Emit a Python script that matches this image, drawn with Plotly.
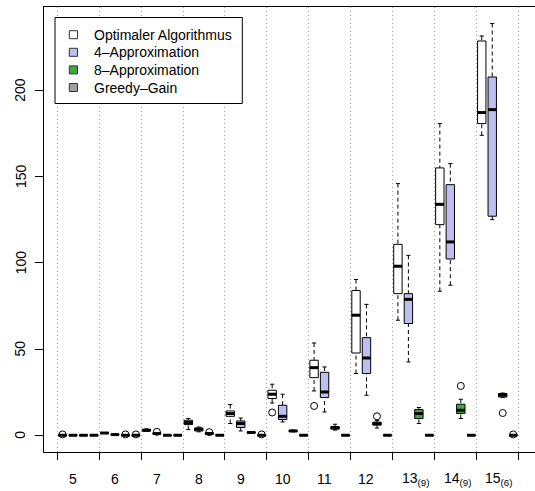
import plotly.graph_objects as go

# ---------------- data ----------------
groups = ["5", "6", "7", "8", "9", "10", "11", "12", "13", "14", "15"]
group_sub = ["", "", "", "", "", "", "", "", "(9)", "(9)", "(6)"]

series_names = ["Optimaler Algorithmus", "4\u2013Approximation", "8\u2013Approximation", "Greedy\u2013Gain"]
series_fill = ["#FFFFFF", "#BEBEF0", "#3DAA3D", "#A0A0A0"]

opt_q1  = [0, 1.3, 2.5, 6.2, 11.0, 21.3, 33.4, 47.7, 82.1, 122.1, 180.7]
opt_med = [0, 1.3, 2.9, 7.4, 12.6, 23.8, 39.2, 69.6, 98.0, 133.9, 187.1]
opt_q3  = [0, 1.3, 3.4, 8.7, 14.1, 26.1, 43.5, 83.9, 110.7, 155.0, 228.6]
opt_lo  = [0, 1.3, 2.2, 3.3, 6.8, 18.7, 25.7, 35.8, 66.7, 83.5, 173.9]
opt_hi  = [0, 1.3, 3.7, 9.7, 17.8, 29.6, 53.5, 90.3, 145.9, 180.7, 231.5]
opt_out_grp = [0, 5, 6]
opt_out_val = [0.5, 13.2, 17.0]

app4_q1  = [0, 0.4, 1.0, 2.5, 4.5, 9.1, 21.9, 35.8, 64.8, 102.2, 127.0]
app4_med = [0, 0.4, 1.0, 3.5, 6.8, 11.0, 25.1, 44.8, 78.8, 112.1, 188.8]
app4_q3  = [0, 0.4, 1.0, 4.2, 8.3, 17.4, 36.5, 56.6, 82.1, 145.3, 207.7]
app4_lo  = [0, 0.4, 1.0, 2.0, 2.5, 7.7, 13.5, 23.2, 42.5, 87.0, 125.0]
app4_hi  = [0, 0.4, 1.0, 4.8, 10.0, 23.8, 39.6, 75.9, 104.3, 157.5, 238.7]
app4_out_grp = [2]
app4_out_val = [2.0]

app8_q1  = [0, 0, 0, 0.8, 1.4, 2.2, 3.6, 5.9, 9.7, 12.6, 22.2]
app8_med = [0, 0, 0, 1.0, 1.6, 2.5, 4.3, 6.7, 12.6, 14.5, 23.5]
app8_q3  = [0, 0, 0, 1.2, 1.8, 2.8, 5.0, 7.6, 14.9, 18.0, 24.2]
app8_lo  = [0, 0, 0, 0.8, 1.2, 2.0, 3.0, 4.2, 6.8, 9.7, 22.0]
app8_hi  = [0, 0, 0, 1.2, 2.0, 3.0, 6.4, 8.5, 16.1, 20.9, 24.5]
app8_out_grp = [1, 3, 7, 9, 10]
app8_out_val = [0.5, 1.8, 11.0, 28.6, 12.9]

greedy_q1  = [0, 0, 0, 0, 0, 0, 0, 0, 0, 0, 0]
greedy_med = [0, 0, 0, 0, 0, 0, 0, 0, 0, 0, 0]
greedy_q3  = [0, 0, 0, 0, 0, 0, 0, 0, 0, 0, 0]
greedy_lo  = [0, 0, 0, 0, 0, 0, 0, 0, 0, 0, 0]
greedy_hi  = [0, 0, 0, 0, 0, 0, 0, 0, 0, 0, 0]
greedy_out_grp = [1, 4, 10]
greedy_out_val = [0.5, 0.5, 0.5]

y_ticks = [0, 50, 100, 150, 200]

# ---------------- assemble ----------------
series = [
    (opt_q1, opt_med, opt_q3, opt_lo, opt_hi, opt_out_grp, opt_out_val),
    (app4_q1, app4_med, app4_q3, app4_lo, app4_hi, app4_out_grp, app4_out_val),
    (app8_q1, app8_med, app8_q3, app8_lo, app8_hi, app8_out_grp, app8_out_val),
    (greedy_q1, greedy_med, greedy_q3, greedy_lo, greedy_hi, greedy_out_grp, greedy_out_val),
]
NS = len(series)
BOXW = 0.8
FONT = "Liberation Sans, Arial, sans-serif"
W, H = 535, 491
ML, MR, MT, MB = 44, 0, 7, 39
PW, PH = W - ML - MR, H - MT - MB


def px_x(p):
    return (p - ML) / PW


def px_y(p):
    return (H - MB - p) / PH


fig = go.Figure()

overlay = []
for s, (q1, med, q3, lo, hi, og, ov) in enumerate(series):
    xs = [NS * k + s + 1 for k in range(len(groups))]
    fig.add_trace(go.Box(
        x=xs, q1=q1, median=med, q3=q3, lowerfence=q1, upperfence=q3,
        width=BOXW, whiskerwidth=0, boxpoints=False,
        fillcolor=series_fill[s], line=dict(color="black", width=1),
        name=series_names[s], showlegend=False, hoverinfo="skip",
    ))
    # dashed whiskers, staples, thick medians
    wx, wy, cx, cy, mx, my = [], [], [], [], [], []
    for i, x in enumerate(xs):
        wx += [x, x, None, x, x, None]
        wy += [hi[i], q3[i], None, lo[i], q1[i], None]
        cx += [x - BOXW / 4, x + BOXW / 4, None, x - BOXW / 4, x + BOXW / 4, None]
        cy += [hi[i], hi[i], None, lo[i], lo[i], None]
        mx += [x - BOXW / 2, x + BOXW / 2, None]
        my += [med[i], med[i], None]
    overlay.append(go.Scatter(x=wx, y=wy, mode="lines", showlegend=False, hoverinfo="skip",
                              line=dict(color="black", width=1, dash="4px,3px")))
    overlay.append(go.Scatter(x=cx, y=cy, mode="lines", showlegend=False, hoverinfo="skip",
                              line=dict(color="black", width=1)))
    overlay.append(go.Scatter(x=mx, y=my, mode="lines", showlegend=False, hoverinfo="skip",
                              line=dict(color="black", width=3)))
    overlay.append(go.Scatter(x=[NS * g + s + 1 for g in og], y=ov, mode="markers",
                              showlegend=False, hoverinfo="skip",
                              marker=dict(symbol="circle-open", size=7, color="black",
                                          line=dict(width=1, color="black"))))
for tr in overlay:
    fig.add_trace(tr)

# x labels under each group (number centred on the 2nd box)
for k, g in enumerate(groups):
    if group_sub[k]:
        fig.add_annotation(x=NS * k + 2, xref="x", y=px_y(478.5), yref="paper",
                           text=g + "<sub>" + group_sub[k] + "</sub>", showarrow=False,
                           xanchor="left", yanchor="middle", xshift=-0.556 * 14 * len(g) / 2 - 1,
                           font=dict(family=FONT, size=14, color="black"))
    else:
        fig.add_annotation(x=NS * k + 2, xref="x", y=px_y(478.5), yref="paper",
                           text=g, showarrow=False, xanchor="center", yanchor="middle",
                           font=dict(family=FONT, size=14, color="black"))

# y labels, rotated like R's default
for v in y_ticks:
    fig.add_annotation(x=px_x(20.5), xref="paper", y=v, yref="y", text=str(v),
                       textangle=-90, showarrow=False, xanchor="center", yanchor="middle",
                       font=dict(family=FONT, size=14, color="black"))

# legend box (R style)
LEG_L, LEG_R, LEG_T, LEG_B = 55, 242.3, 17.5, 103.5
fig.add_shape(type="rect", xref="paper", yref="paper",
              x0=px_x(LEG_L), x1=px_x(LEG_R), y0=px_y(LEG_B), y1=px_y(LEG_T),
              line=dict(color="black", width=1), fillcolor="white", layer="above")
for i, nm in enumerate(series_names):
    cy_ = 34.7 + 17.6 * i
    fig.add_shape(type="rect", xref="paper", yref="paper",
                  x0=px_x(69.3), x1=px_x(77.5), y0=px_y(cy_ + 4), y1=px_y(cy_ - 4),
                  line=dict(color="#333333", width=1), fillcolor=series_fill[i], layer="above")
    fig.add_annotation(x=px_x(91.5), xref="paper", y=px_y(cy_), yref="paper", text=nm,
                       showarrow=False, xanchor="left", yanchor="middle",
                       font=dict(family=FONT, size=14, color="black"))

sep_ticks = [NS * k + 0.5 for k in range(len(groups) + 1)]

fig.update_layout(
    width=W, height=H,
    margin=dict(l=ML, r=MR, t=MT, b=MB, autoexpand=False),
    paper_bgcolor="white", plot_bgcolor="white",
    boxmode="overlay",
    font=dict(family=FONT, size=14, color="black"),
    xaxis=dict(range=[-0.77, 46.08], tickvals=sep_ticks, showticklabels=False,
               ticks="outside", ticklen=7, tickcolor="black", tickwidth=1,
               showline=True, linecolor="black", linewidth=1, mirror=True,
               showgrid=True, gridcolor="#A8A8A8", gridwidth=1, griddash="1px,3px",
               zeroline=False, fixedrange=True),
    yaxis=dict(range=[-9.7, 248.3], tickvals=y_ticks, showticklabels=False,
               ticks="outside", ticklen=8, tickcolor="black", tickwidth=1,
               showline=True, linecolor="black", linewidth=1, mirror=False,
               showgrid=False, zeroline=False, fixedrange=True),
    showlegend=False,
)

fig.write_html("out.html")
